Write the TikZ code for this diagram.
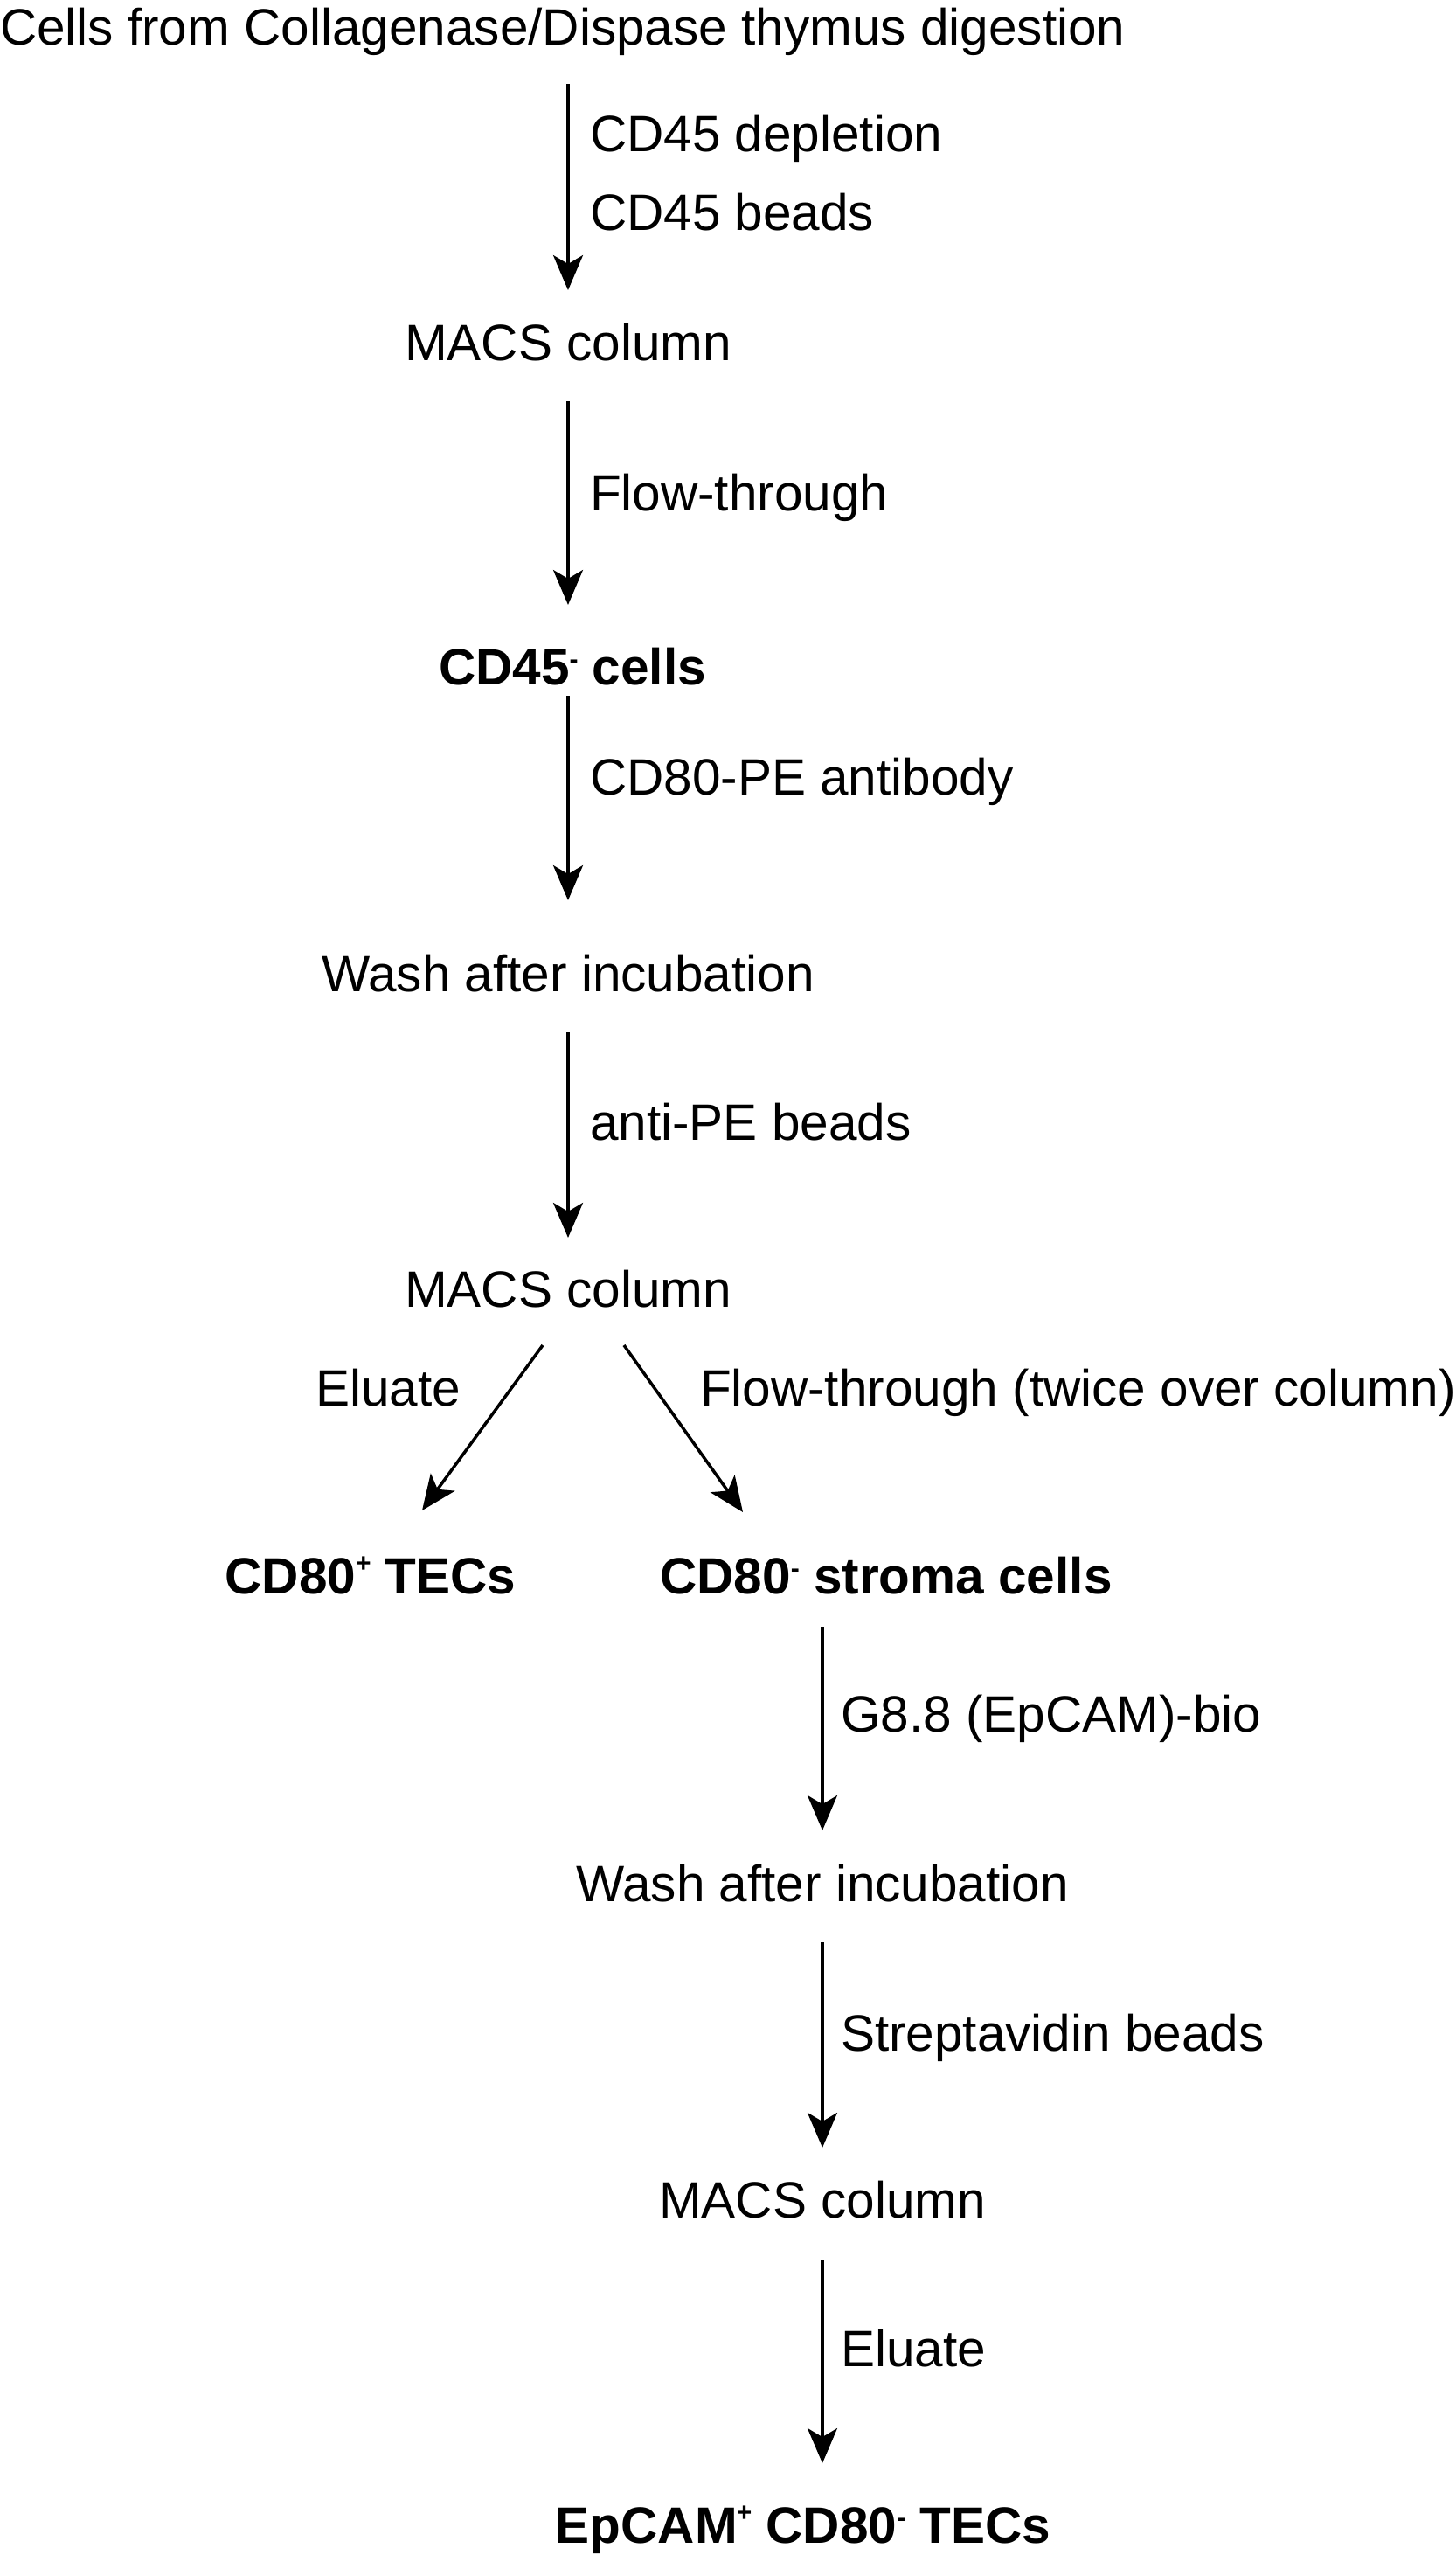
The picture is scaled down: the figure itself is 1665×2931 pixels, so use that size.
\documentclass[tikz,border=0pt]{standalone}
\usepackage{fontspec}
\setmainfont{Liberation Sans}
\usetikzlibrary{arrows.meta,calc}
\newcommand{\spplus}{\raisebox{25pt}{\fontsize{30}{30}\selectfont +}}
\newcommand{\spminus}{\raisebox{19pt}{\fontsize{30}{30}\selectfont -}}
\tikzset{
  txt/.style={inner sep=0pt, outer sep=0pt, text height=43pt, text depth=14pt,
    font=\fontsize{58.5}{68}\selectfont},
  bold/.style={txt, font=\fontsize{58.5}{68}\selectfont\bfseries},
  lbl/.style={txt, anchor=base west},
  arr/.style={line width=3.5pt, -{Stealth[length=40pt, width=34pt, inset=10pt]}}
}
\begin{document}
\begin{tikzpicture}[x=1pt,y=-1pt]
\useasboundingbox (0,0) rectangle (1665,2931);
% nodes
\node[txt, anchor=base west] (title) at (0,51) {Cells from Collagenase/Dispase thymus digestion};
\node[txt, anchor=base] (mac1) at (650,412) {MACS column};
\node[bold, anchor=base] (cd45) at (655,783) {CD45\spminus\ cells};
\node[txt, anchor=base] (wash1) at (650,1134) {Wash after incubation};
\node[txt, anchor=base] (mac2) at (650,1495) {MACS column};
\node[bold, anchor=base] (cd80p) at (424,1823) {CD80\spplus\ TECs};
\node[bold, anchor=base] (cd80m) at (1014,1823) {CD80\spminus\ stroma cells};
\node[txt, anchor=base] (wash2) at (941,2175) {Wash after incubation};
\node[txt, anchor=base] (mac3) at (941,2537) {MACS column};
\node[bold, anchor=base] (epcam) at (919,2909) {EpCAM\kern-1pt\spplus\ CD80\spminus\ TECs};
% labels
\node[lbl] (l1a) at (675,173) {CD45 depletion};
\node[lbl] (l1b) at (675,263) {CD45 beads};
\node[lbl] (l2) at (675,584) {Flow-through};
\node[lbl] (l3) at (675,909) {CD80-PE antibody};
\node[lbl] (l4) at (675,1304) {anti-PE beads};
\node[txt, anchor=base east] (l5) at (527,1608) {Eluate};
\node[lbl] (l6) at (801,1608) {Flow-through (twice over column)};
\node[lbl] (l7) at (962,1981) {G8.8 (EpCAM)-bio};
\node[lbl] (l8) at (962,2346) {Streptavidin beads};
\node[lbl] (l9) at (962,2707) {Eluate};
% connectors
\draw[arr] ($(title.south -| mac1.south)+(0,31)$) -- ($(mac1.north)+(0,-37)$);
\draw[arr] ($(mac1.south)+(0,33)$) -- ($(cd45.north -| mac1.north)+(0,-48)$);
\draw[arr] ($(cd45.south -| wash1.north)+(0,-1)$) -- ($(wash1.north)+(0,-61)$);
\draw[arr] ($(wash1.south)+(0,33)$) -- ($(mac2.north)+(0,-36)$);
\draw[arr] ($(mac2.south)+(-29,30)$) -- ($(cd80p.north)+(59,-52)$);
\draw[arr] ($(mac2.south)+(64,30)$) -- ($(cd80m.north)+(-164,-50)$);
\draw[arr] ($(cd80m.south -| wash2.north)+(0,24)$) -- ($(wash2.north)+(0,-38)$);
\draw[arr] ($(wash2.south)+(0,33)$) -- ($(mac3.north)+(0,-37)$);
\draw[arr] ($(mac3.south)+(0,34)$) -- ($(epcam.north -| mac3.north)+(0,-48)$);
\end{tikzpicture}
\end{document}
